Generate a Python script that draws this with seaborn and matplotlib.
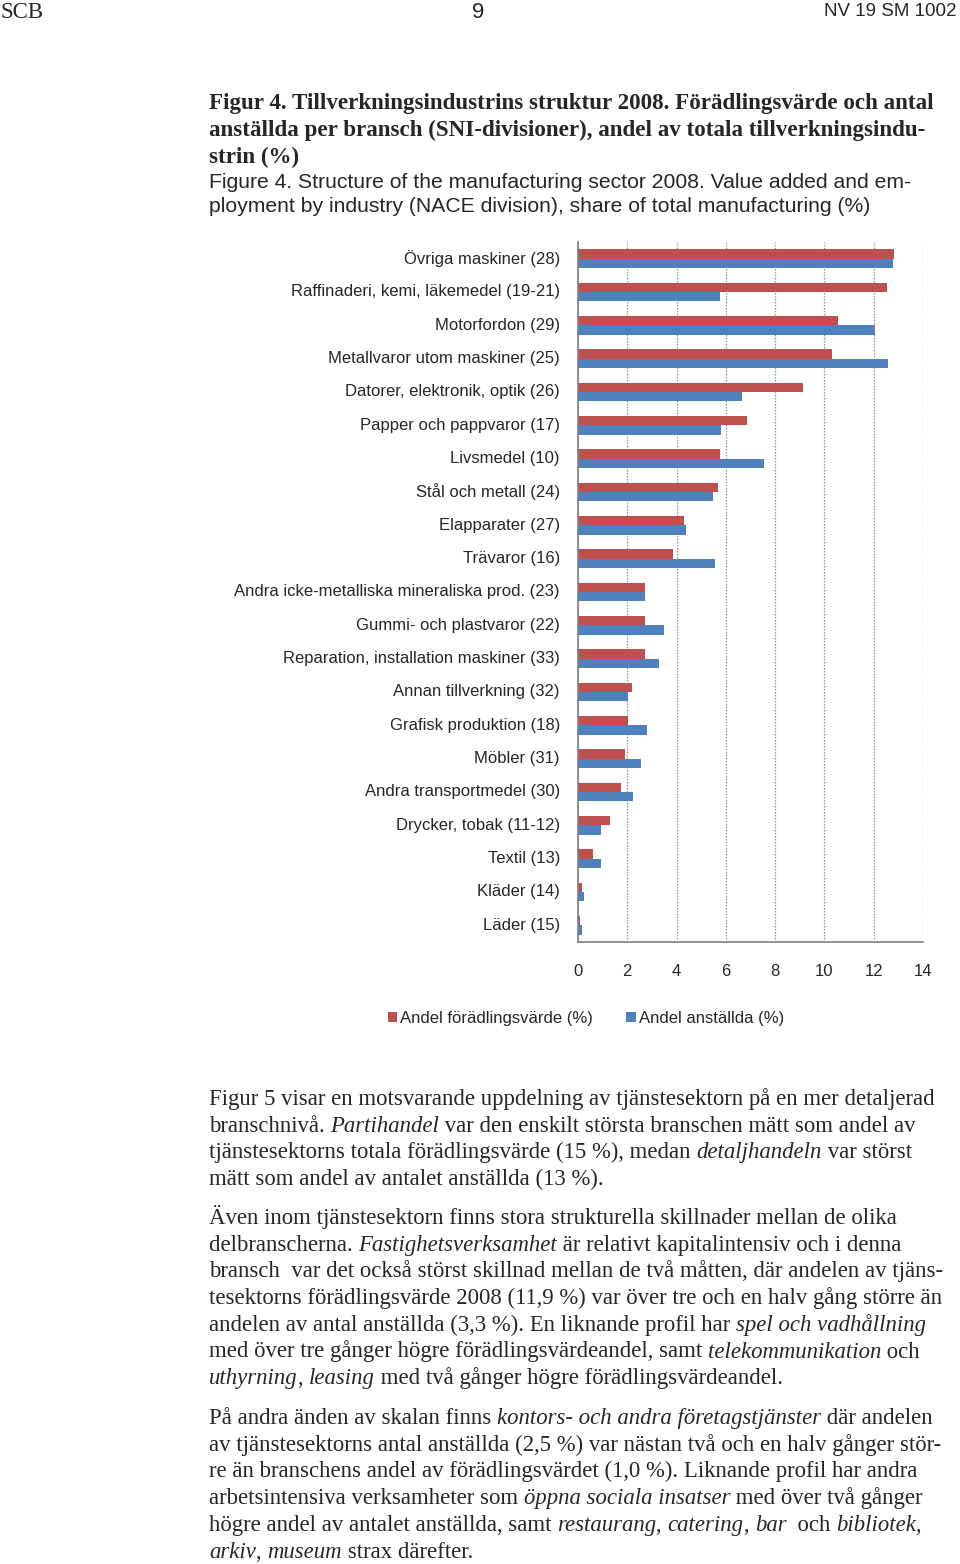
import numpy as np
import pandas as pd
import matplotlib
matplotlib.use("Agg")
import matplotlib.pyplot as plt
import seaborn as sns

categories = [
    "Övriga maskiner (28)",
    "Raffinaderi, kemi, läkemedel (19-21)",
    "Motorfordon (29)",
    "Metallvaror utom maskiner (25)",
    "Datorer, elektronik, optik (26)",
    "Papper och pappvaror (17)",
    "Livsmedel (10)",
    "Stål och metall (24)",
    "Elapparater (27)",
    "Trävaror (16)",
    "Andra icke-metalliska mineraliska prod. (23)",
    "Gummi- och plastvaror (22)",
    "Reparation, installation maskiner (33)",
    "Annan tillverkning (32)",
    "Grafisk produktion (18)",
    "Möbler (31)",
    "Andra transportmedel (30)",
    "Drycker, tobak (11-12)",
    "Textil (13)",
    "Kläder (14)",
    "Läder (15)",
]
andel_foradling = [12.81, 12.53, 10.54, 10.31, 9.14, 6.86, 5.77, 5.70, 4.32, 3.84, 2.73,
                   2.73, 2.72, 2.18, 2.04, 1.89, 1.73, 1.31, 0.59, 0.18, 0.08]
andel_anstallda = [12.77, 5.78, 12.05, 12.59, 6.64, 5.82, 7.54, 5.46, 4.38, 5.55, 2.73,
                   3.51, 3.30, 2.03, 2.78, 2.55, 2.23, 0.92, 0.92, 0.23, 0.16]
series_names = ["Andel förädlingsvärde (%)", "Andel anställda (%)"]
x_ticks = [0, 2, 4, 6, 8, 10, 12, 14]

df = pd.DataFrame({"bransch": categories,
                   series_names[0]: andel_foradling,
                   series_names[1]: andel_anstallda})
long = df.melt(id_vars="bransch", var_name="serie", value_name="andel")

W, H = 960, 1564
fig = plt.figure(figsize=(W / 100, H / 100), dpi=100)
sns.set_style("white")

def fx(px):
    return px / W

def fy(py):
    return 1 - py / H

SERIF = "Liberation Serif"
SANS = "Liberation Sans"

# page header
fig.text(fx(0), fy(12), "SCB", family=SERIF, fontsize=16.5, va="center", ha="left")
fig.text(fx(478), fy(12), "9", family=SANS, fontsize=16, va="center", ha="center")
fig.text(fx(957), fy(12), "NV 19 SM 1002", family=SANS, fontsize=13.5, va="center", ha="right")

# chart
ax = fig.add_axes([fx(578), fy(942), fx(923) - fx(578), (942 - 242) / H])
sns.barplot(data=long, y="bransch", x="andel", hue="serie", orient="h",
            palette=["#C0504D", "#4F81BD"], width=0.56, ax=ax, saturation=1,
            edgecolor="none")
ax.set_xlim(0, 14)
ax.set_xticks(x_ticks)
ax.set_xticklabels([str(t) for t in x_ticks], family=SANS, fontsize=12)
ax.set_yticklabels(categories, family=SANS, fontsize=12, va="center")
ax.set_xlabel("")
ax.set_ylabel("")
ax.set_yticks(np.arange(-0.5, len(categories), 1), minor=True)
ax.tick_params(axis="y", which="major", length=0, pad=13)
ax.tick_params(axis="y", which="minor", length=5, color="#808080", width=1)
ax.tick_params(axis="x", which="major", length=6, color="#808080", width=1, pad=10)
ax.xaxis.grid(True, linestyle=(0, (1.2, 1.2)), color="#909090", linewidth=0.9)
ax.set_axisbelow(True)
for s in ["top", "right"]:
    ax.spines[s].set_visible(False)
for s in ["left", "bottom"]:
    ax.spines[s].set_color("#808080")
    ax.spines[s].set_linewidth(1.2)

handles, labels = ax.get_legend_handles_labels()
ax.legend(handles, labels, loc="center", bbox_to_anchor=(fx(586), fy(1018)),
          bbox_transform=fig.transFigure, ncol=2, frameon=False,
          prop={"family": SANS, "size": 12}, handlelength=0.55, handleheight=0.55,
          handletextpad=0.2, columnspacing=2.0)

# text blocks
renderer = fig.canvas.get_renderer()

def draw_line(x_px, yc_px, segs, size, family=SERIF, weight="normal"):
    x = fx(x_px)
    for txt, style in segs:
        t = fig.text(x, fy(yc_px + 6), txt, family=family, fontsize=size,
                     style=style, weight=weight, va="baseline", ha="left")
        x += t.get_window_extent(renderer=renderer).width / fig.bbox.width

N, I = "normal", "italic"
title_lines = [
    "Figur 4. Tillverkningsindustrins struktur 2008. Förädlingsvärde och antal",
    "anställda per bransch (SNI-divisioner), andel av totala tillverkningsindu-",
    "strin (%)",
]
for i, line in enumerate(title_lines):
    draw_line(209, 103 + i * 26.8, [(line, N)], 16.6, weight="bold")
eng_lines = [
    "Figure 4. Structure of the manufacturing sector 2008. Value added and em-",
    "ployment by industry (NACE division), share of total manufacturing (%)",
]
for i, line in enumerate(eng_lines):
    draw_line(209, 182 + i * 24.5, [(line, N)], 15.2, family=SANS)

para1 = [
    [("Figur 5 visar en motsvarande uppdelning av tjänstesektorn på en mer detaljerad", N)],
    [("branschnivå. ", N), ("Partihandel", I), (" var den enskilt största branschen mätt som andel av", N)],
    [("tjänstesektorns totala förädlingsvärde (15 %), medan ", N), ("detaljhandeln", I), (" var störst", N)],
    [("mätt som andel av antalet anställda (13 %).", N)],
]
para2 = [
    [("Även inom tjänstesektorn finns stora strukturella skillnader mellan de olika", N)],
    [("delbranscherna. ", N), ("Fastighetsverksamhet", I), (" är relativt kapitalintensiv och i denna", N)],
    [("bransch  var det också störst skillnad mellan de två måtten, där andelen av tjäns-", N)],
    [("tesektorns förädlingsvärde 2008 (11,9 %) var över tre och en halv gång större än", N)],
    [("andelen av antal anställda (3,3 %). En liknande profil har ", N), ("spel och vadhållning", I)],
    [("med över tre gånger högre förädlingsvärdeandel, samt ", N), ("telekommunikation", I), (" och", N)],
    [("uthyrning", I), (", ", N), ("leasing", I), (" med två gånger högre förädlingsvärdeandel.", N)],
]
para3 = [
    [("På andra änden av skalan finns ", N), ("kontors- och andra företagstjänster", I), (" där andelen", N)],
    [("av tjänstesektorns antal anställda (2,5 %) var nästan två och en halv gånger stör-", N)],
    [("re än branschens andel av förädlingsvärdet (1,0 %). Liknande profil har andra", N)],
    [("arbetsintensiva verksamheter som ", N), ("öppna sociala insatser", I), (" med över två gånger", N)],
    [("högre andel av antalet anställda, samt ", N), ("restaurang", I), (", ", N), ("catering", I),
     (", ", N), ("bar", I), ("  och ", N), ("bibliotek,", I)],
    [("arkiv", I), (", ", N), ("museum", I), (" strax därefter.", N)],
]
for start, para in [(1099, para1), (1218, para2), (1418, para3)]:
    for i, segs in enumerate(para):
        draw_line(209, start + i * 26.7, segs, 16.4)

fig.savefig("out.png", dpi=100)
